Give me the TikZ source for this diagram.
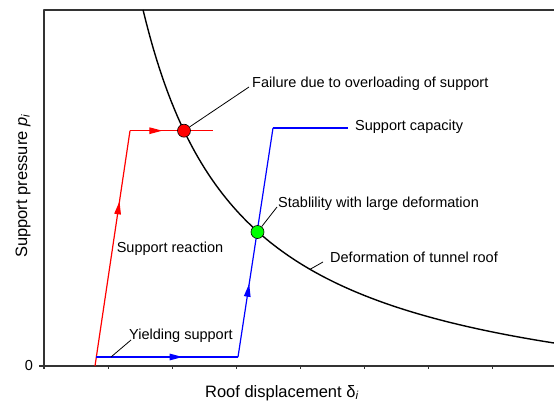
\documentclass[tikz,border=0pt]{standalone}
\usepackage{fontspec}
\setmainfont{Liberation Sans}
\usetikzlibrary{arrows.meta,decorations.markings}

\begin{document}
\begin{tikzpicture}[x=1pt, y=1pt, line join=round,
    every node/.style={font=\fontsize{14.5}{17}\selectfont},
    midarrow/.style={postaction={decorate}, decoration={markings,
        mark=at position #1 with {\arrow{Triangle[length=13pt,width=6.5pt]}}}},
    dot/.style={circle, draw=black, line width=0.6pt, minimum size=13pt, inner sep=0pt},
    leader/.style={black, line width=0.8pt},
    lbl/.style={anchor=west, inner sep=1pt},
    axlbl/.style={font=\fontsize{16.5}{19}\selectfont}]
    \useasboundingbox (-44,-39) rectangle (510,366);
    \pgfmathsetmacro{\kA}{409.58}
    \pgfmathsetmacro{\kC}{57.3}

    \coordinate (O) at (0,0);
    \coordinate (T) at (0,356);
    \coordinate (TR) at (510,356);
    \coordinate (R) at (510,0);

    % axes
    \draw[line width=1.2pt, black!80] (TR) -- (T) -- (0,-3);
    \draw[line width=1.2pt, black!80] (-5,0) -- (R);
    \foreach \t in {1,...,7}
        \draw[line width=0.8pt, black!80] (64*\t,0) -- (64*\t,-3);

    % roof curve
    \draw[line width=1.4pt] plot[domain=99.1:510, samples=120] (\x, {\kA/(\x/100)-\kC});
    \coordinate (defpt) at (266, {\kA/2.66-\kC});

    % support reaction
    \coordinate (r0) at (51,0);
    \coordinate (r1) at (86,235.3);
    \coordinate (r2) at (169,235.3);
    \draw[red, line width=1.2pt, midarrow=0.7] (r0) -- (r1);
    \draw[red, line width=1.2pt, midarrow=0.39] (r1) -- (r2);

    % yielding support
    \coordinate (b0) at (52,9);
    \coordinate (b1) at (194,9);
    \coordinate (b2) at (229,238);
    \coordinate (b3) at (304,238);
    \coordinate (ypt) at (67,9);
    \draw[blue, line width=1.2pt, midarrow=0.61] (b0) -- (b1);
    \draw[blue, line width=1.2pt, midarrow=0.32] (b1) -- (b2);
    \draw[blue, line width=1.2pt] (b2) -- (b3);

    \node[dot, fill=red] (redpt) at (140,235.3) {};
    \node[dot, fill=green] (greenpt) at (213.5,134) {};

    % labels
    \node[lbl] (failtxt) at (207,282) {Failure due to overloading of support};
    \node[lbl] (captxt) at (310,239) {Support capacity};
    \node[lbl] (stabtxt) at (233,162) {Stablility with large deformation};
    \node[lbl] (deftxt) at (285,109) {Deformation of tunnel roof};
    \node (reacttxt) at (126,117) {Support reaction};
    \node[lbl] (yieldtxt) at (84,30) {Yielding support};
    \node (zero) at (-15,0) {0};
    \node[axlbl, rotate=90] (ylab) at (-21,180) {Support pressure \textit{p}\textsubscript{\textit{i}}};
    \node[axlbl] (xlab) at (238,-27) {Roof displacement δ\textsubscript{\textit{i}}};

    \draw[leader] (redpt) -- ([xshift=-2pt,yshift=-3pt]failtxt.west);
    \draw[leader] (greenpt) -- ([yshift=-3pt]stabtxt.west);
    \draw[leader] (defpt) -- ([xshift=-6pt,yshift=-5pt]deftxt.west);
    \draw[leader] (ypt) -- ([xshift=3pt,yshift=-4pt]yieldtxt.west);
\end{tikzpicture}
\end{document}
